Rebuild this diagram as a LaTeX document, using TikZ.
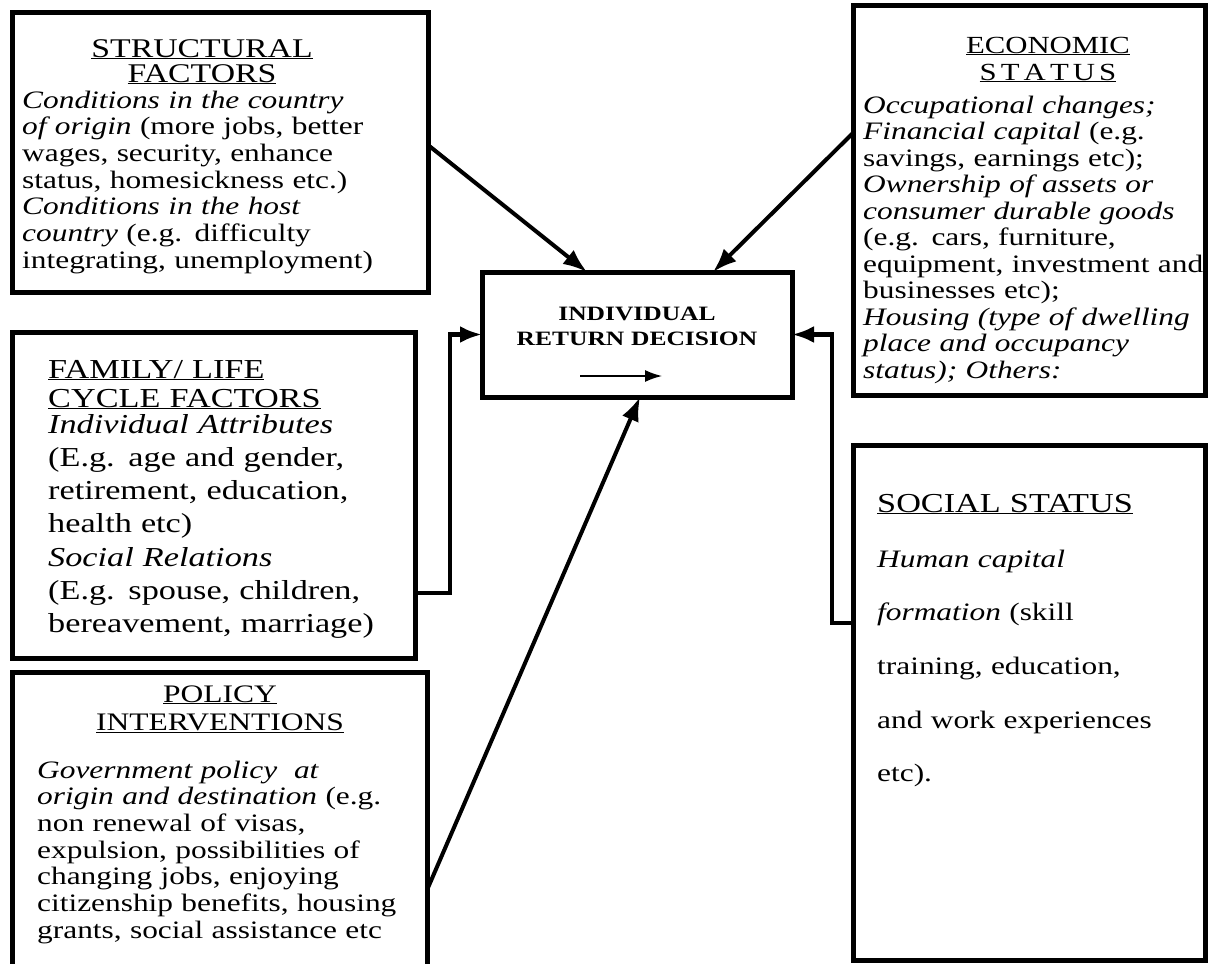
\documentclass[tikz,border=0pt]{standalone}
\usepackage{fontspec}
\setmainfont{Liberation Serif}[FakeStretch=1.25]
\usetikzlibrary{arrows.meta}
\tikzset{
  box/.style={draw, line width=5pt, inner sep=0pt, outer sep=0pt, anchor=north west, fill=none},
  conn/.style={line width=4pt, -{Latex[length=24pt,width=18pt]}},
  link/.style={line width=4.5pt, line join=miter, -{Latex[length=22pt,width=17pt]}},
  txt/.style={inner sep=0pt, anchor=base west, text width=420pt, align=left},
  ttl/.style={inner sep=0pt, anchor=base, text width=420pt, align=center},
  fbody/.style={font=\fontsize{25.1}{26.7}\selectfont},
}
\begin{document}
\begin{tikzpicture}[x=1pt,y=-1pt]
\useasboundingbox[fill=white] (0,0) rectangle (1211,964);

% boxes
\node[box, minimum width=416pt, minimum height=280pt] (sbox) at (12,12) {};
\node[box, minimum width=352pt, minimum height=390pt] (ebox) at (853,5) {};
\node[box, minimum width=403pt, minimum height=326pt] (fbox) at (12,332) {};
\node[box, minimum width=415pt, minimum height=313pt] (pbox) at (12,672) {};
\node[box, minimum width=352pt, minimum height=515pt] (socbox) at (853,445) {};
\node[box, minimum width=310pt, minimum height=125pt] (cbox) at (482,272) {};

% structural factors
\node[ttl, font=\fontsize{27}{25}\selectfont] (stitle) at (202,57) {\underline{STRUCTURAL}\\\underline{FACTORS}};
\node[txt, fbody] (stext) at (22,108) {\textit{Conditions in the country}\\
\textit{of origin} (more jobs, better\\
wages, security, enhance\\
status, homesickness etc.)\\
\textit{Conditions in the host}\\
\textit{country} (e.g. difficulty\\
integrating, unemployment)};

% economic status
\node[ttl, font=\fontsize{24.6}{27}\selectfont] (etitle) at (1048,53) {\underline{ECONOMIC}\\\underline{S\,T\,A\,T\,U\,S}};
\node[txt, font=\fontsize{25.1}{26.5}\selectfont] (etext) at (863,113) {\textit{Occupational changes;}\\
\textit{Financial capital} (e.g.\\
savings, earnings etc);\\
\textit{Ownership of assets or}\\
\textit{consumer durable goods}\\
(e.g. cars, furniture,\\
equipment, investment and\\
businesses etc);\\
\textit{Housing (type of dwelling}\\
\textit{place and occupancy}\\
\textit{status); Others:}};

% family / life cycle
\node[txt, font=\fontsize{27.4}{29}\selectfont] (ftitle) at (48,378) {\underline{FAMILY/ LIFE}\\\underline{CYCLE FACTORS}};
\node[txt, font=\fontsize{27.4}{33.3}\selectfont] (ftext) at (48,433) {\textit{Individual Attributes}\\
(E.g. age and gender,\\
retirement, education,\\
health etc)\\
\textit{Social Relations}\\
(E.g. spouse, children,\\
bereavement, marriage)};

% policy interventions
\node[ttl, font=\fontsize{25.2}{28}\selectfont] (ptitle) at (220,702) {\underline{POLICY}\\\underline{INTERVENTIONS}};
\node[txt, fbody] (ptext) at (37,778) {\textit{Government policy\ \ at}\\
\textit{origin and destination} (e.g.\\
non renewal of visas,\\
expulsion, possibilities of\\
changing jobs, enjoying\\
citizenship benefits, housing\\
grants, social assistance etc};

% social status
\node[txt, font=\fontsize{27.4}{29}\selectfont] (soctitle) at (877,512) {\underline{SOCIAL STATUS}};
\node[txt, font=\fontsize{25.1}{53.7}\selectfont] (soctext) at (877,567) {\textit{Human capital}\\
\textit{formation} (skill\\
training, education,\\
and work experiences\\
etc).};

% center
\node[ttl, font=\fontsize{20.4}{25}\selectfont\bfseries] (ctitle) at (637,320) {INDIVIDUAL\\RETURN DECISION};
\coordinate (a1) at (580,376);
\coordinate (a2) at (662,376);
\draw[line width=1.5pt, -{Latex[length=17pt,width=12pt]}] (a1) -- (a2);

% connectors
\draw[conn] ([yshift=7pt]sbox.east) -- ([xshift=-50pt]cbox.north);
\draw[conn] ([yshift=67pt]ebox.west) -- ([xshift=76pt]cbox.north);
\draw[link] ([yshift=-98pt]fbox.east) -- ++(35,0) |- (cbox.west);
\draw[link] ([yshift=79.5pt]socbox.west) -- ++(-21,0) |- (cbox.east);
\draw[conn] ([yshift=-61.5pt]pbox.east) -- ([xshift=3pt]cbox.south);
\end{tikzpicture}
\end{document}
